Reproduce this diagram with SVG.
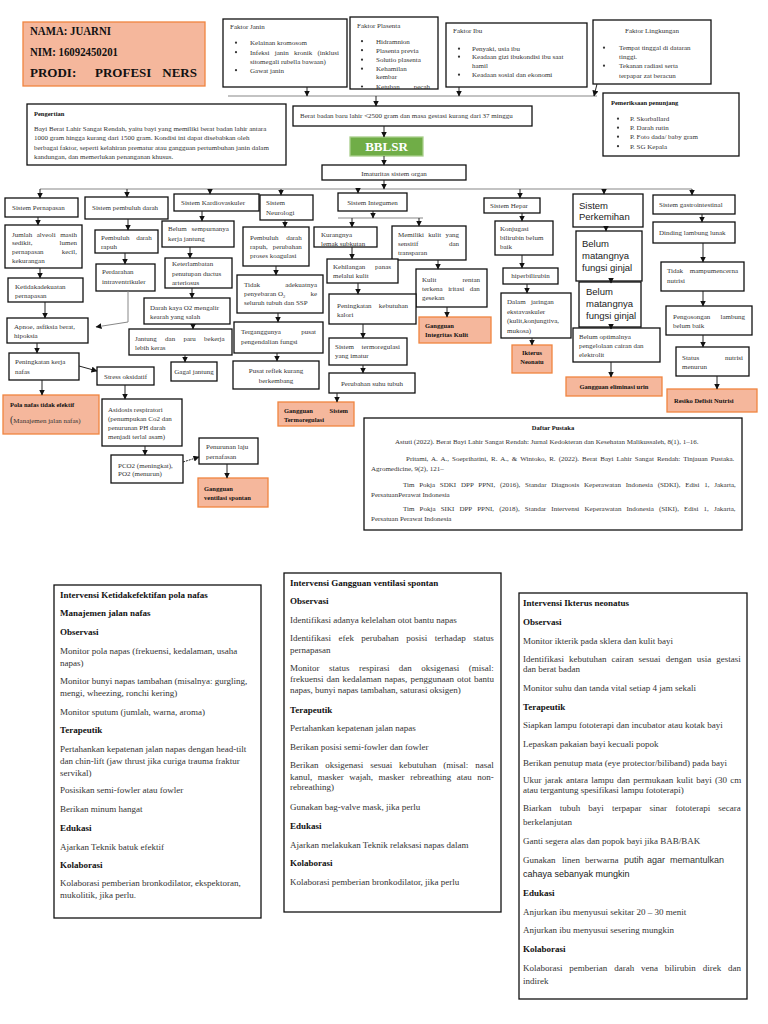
<svg xmlns="http://www.w3.org/2000/svg" width="768" height="1024" viewBox="0 0 768 1024">
<defs>
<marker id="ah" markerWidth="6" markerHeight="6" refX="5.5" refY="3" orient="auto" markerUnits="userSpaceOnUse"><path d="M0,0 L6,3 L0,6 z" fill="#111"/></marker>
<clipPath id="cpH"><rect x="23" y="22" width="182" height="64"/></clipPath>
<clipPath id="cpP"><rect x="350" y="17" width="88" height="72"/></clipPath>
<clipPath id="cpI"><rect x="512" y="345" width="40" height="28"/></clipPath>
</defs>
<style>
.bx{fill:#fff;stroke:#111;stroke-width:1.3}
.ob{fill:#f5b79c;stroke:#f0843f;stroke-width:1.3}
.t{font-family:"Liberation Serif","Times New Roman",serif;font-size:7px;fill:#333}
.tb{font-family:"Liberation Serif","Times New Roman",serif;font-size:7px;font-weight:bold;fill:#111}
.s9{font-size:9px}
.sn{font-family:"Liberation Sans",Arial,sans-serif;font-size:9.5px;fill:#222}
.m{text-anchor:middle}
.e{text-anchor:end}
.dot{fill:#333}
.ln{stroke:#222;stroke-width:1;fill:none;marker-end:url(#ah)}
.bus{stroke:#888;stroke-width:1.2;fill:none}
</style>
<rect width="768" height="1024" fill="#fff"/>

<g id="header">
<rect class="ob" x="23" y="22" width="182" height="64"/>
<g clip-path="url(#cpH)" class="tb" style="font-size:13px">
<text x="30" y="35" textLength="81" lengthAdjust="spacingAndGlyphs">NAMA: JUARNI</text>
<text x="30" y="56" textLength="88" lengthAdjust="spacingAndGlyphs">NIM: 16092450201</text>
<text x="30" y="76.5">PRODI:</text>
<text x="95" y="76.5">PROFESI</text>
<text x="197" y="76.5" class="e">NERS</text>
<text x="30" y="94">UNIMUS</text>
</g>
</g>

<g id="faktor-janin">
<rect class="bx" x="223" y="19" width="124" height="68"/>
<text class="t" x="230" y="28.5">Faktor Janin</text>
<circle class="dot" cx="236" cy="42.7" r="1.1"/><text class="t" x="250" y="45">Kelainan kromosom</text>
<circle class="dot" cx="236" cy="52.2" r="1.1"/><text class="t" x="250" y="54.5" style="word-spacing:3.5px">Infeksi janin kronik (inklusi</text>
<text class="t" x="250" y="63.5">sitomegali rubella bawaan)</text>
<circle class="dot" cx="236" cy="70.2" r="1.1"/><text class="t" x="250" y="72.5">Gawat janin</text>
</g>

<g id="faktor-plasenta">
<rect class="bx" x="350" y="17" width="88" height="72"/>
<g clip-path="url(#cpP)">
<text class="t" x="357" y="27.5">Faktor Plasenta</text>
<circle class="dot" cx="362" cy="41.2" r="1.1"/><text class="t" x="376" y="43.5">Hidramnion</text>
<circle class="dot" cx="362" cy="50.2" r="1.1"/><text class="t" x="376" y="52.5">Plasenta previa</text>
<circle class="dot" cx="362" cy="59.7" r="1.1"/><text class="t" x="376" y="62">Solutio plasenta</text>
<circle class="dot" cx="362" cy="68.7" r="1.1"/><text class="t" x="376" y="71">Kehamilan</text>
<text class="t" x="376" y="79">kembar</text>
<circle class="dot" cx="362" cy="86.5" r="1.1"/><text class="t" x="376" y="89">Ketuban</text><text class="t e" x="430" y="89">pecah</text>
</g>
</g>

<g id="faktor-ibu">
<rect class="bx" x="446" y="23" width="141" height="64"/>
<text class="t" x="453" y="33">Faktor Ibu</text>
<circle class="dot" cx="459" cy="48.7" r="1.1"/><text class="t" x="472" y="51">Penyaki, usia ibu</text>
<circle class="dot" cx="459" cy="56.7" r="1.1"/><text class="t" x="472" y="59">Keadaan gizi ibukondisi ibu saat</text>
<text class="t" x="472" y="67.5">hamil</text>
<circle class="dot" cx="459" cy="74.7" r="1.1"/><text class="t" x="472" y="77">Keadaan sosial dan ekonomi</text>
</g>

<g id="faktor-lingkungan">
<rect class="bx" x="593" y="20" width="118" height="64"/>
<text class="t m" x="652" y="32.5">Faktor Lingkungan</text>
<circle class="dot" cx="604" cy="47.7" r="1.1"/><text class="t" x="619" y="50">Tempat tinggal di dataran</text>
<text class="t" x="619" y="59">tinggi.</text>
<circle class="dot" cx="604" cy="65.7" r="1.1"/><text class="t" x="619" y="68">Tekanan radiasi serta</text>
<text class="t" x="619" y="77.5">terpapar zat beracun</text>
</g>

<g id="pengertian">
<rect class="bx" x="27" y="104" width="259" height="61"/>
<text class="tb" x="34" y="115.5" style="font-size:6.5px">Pengertian</text>
<text class="t" x="34" y="131">Bayi Berat Lahir Sangat Rendah, yaitu bayi yang memiliki berat badan lahir antara</text>
<text class="t" x="34" y="140">1000 gram hingga kurang dari 1500 gram. Kondisi ini dapat disebabkan oleh</text>
<text class="t" x="34" y="149.5">berbagai faktor, seperti kelahiran prematur atau gangguan pertumbuhan janin dalam</text>
<text class="t" x="34" y="158.5">kandungan, dan memerlukan penanganan khusus.</text>
</g>

<g id="berat-badan">
<rect class="bx" x="293" y="106" width="239" height="20"/>
<text class="t" x="300" y="118">Berat badan baru lahir &lt;2500 gram dan masa gestasi kurang dari 37 minggu</text>
</g>

<g id="bblsr">
<rect x="350" y="137" width="73" height="19" fill="#70ad47" stroke="#a9cf8c" stroke-width="1.3"/>
<text class="tb m" x="386.5" y="151" style="font-size:13px;fill:#fff">BBLSR</text>
</g>

<g id="imaturitas">
<rect class="bx" x="322" y="165" width="144" height="15"/>
<text class="t m" x="394" y="175.5">Imaturitas sistem organ</text>
</g>

<g id="pemeriksaan">
<rect class="bx" x="603" y="93" width="136" height="63"/>
<text class="tb" x="611" y="105" style="font-size:6.5px">Pemeriksaan penunjang</text>
<circle class="dot" cx="618" cy="118.7" r="1.1"/><text class="t" x="630" y="121">P. Skorballard</text>
<circle class="dot" cx="618" cy="127.7" r="1.1"/><text class="t" x="630" y="130">P. Darah rutin</text>
<circle class="dot" cx="618" cy="136.7" r="1.1"/><text class="t" x="630" y="139">P. Foto dada/ baby gram</text>
<circle class="dot" cx="618" cy="146.2" r="1.1"/><text class="t" x="630" y="148.5">P. SG Kepala</text>
</g>

<!-- Pernapasan -->
<g id="sis-pernapasan"><rect class="bx" x="5" y="198" width="73" height="19"/><text class="t" x="12" y="209.5">Sistem Pernapasan</text></g>
<g id="alveoli"><rect class="bx" x="5" y="225" width="77" height="43"/>
<text class="t" x="12" y="236.5" style="word-spacing:2.7px">Jumlah alveoli masih</text>
<text class="t" x="12" y="245">sedikit,</text><text class="t e" x="77" y="245">lumen</text>
<text class="t" x="12" y="254">pernapasan</text><text class="t e" x="77" y="254">kecil,</text>
<text class="t" x="12" y="263">kekurangan</text></g>
<g id="ketidakadekuatan"><rect class="bx" x="8" y="278" width="75" height="24"/>
<text class="t" x="15" y="288.5">Ketidakadekuatan</text><text class="t" x="15" y="297.5">pernapasan</text></g>
<g id="apnoe"><rect class="bx" x="7" y="318" width="81" height="25"/>
<text class="t" x="14" y="328.5">Apnoe, asfiksia berat,</text><text class="t" x="14" y="337.5">hipoksia</text></g>
<g id="peningkatan-kerja"><rect class="bx" x="9" y="353" width="70" height="27"/>
<text class="t" x="15" y="364">Peningkatan kerja</text><text class="t" x="15" y="374">nafas</text></g>
<g id="pola-nafas"><rect class="ob" x="3" y="395" width="96" height="39"/>
<text class="tb" x="10" y="406.5" style="font-size:6.5px">Pola nafas tidak efektif</text>
<text class="t" x="10" y="423"><tspan style="font-size:10px">(</tspan>Manajemen jalan nafas)</text></g>

<!-- Pembuluh darah -->
<g id="sis-pembuluh"><rect class="bx" x="85" y="197" width="83" height="22"/><text class="t" x="92" y="210">Sistem pembuluh darah</text></g>
<g id="pembuluh-rapuh"><rect class="bx" x="95" y="230" width="63" height="23"/>
<text class="t" x="101" y="240" style="word-spacing:5px">Pembuluh darah</text><text class="t" x="101" y="249">rapuh</text></g>
<g id="perdarahan"><rect class="bx" x="96" y="264" width="59" height="27"/>
<text class="t" x="102" y="274">Perdarahan</text><text class="t" x="102" y="283.5">intraventrikuler</text></g>
<g id="stress"><rect class="bx" x="97" y="367" width="57" height="18"/><text class="t" x="104" y="378.5">Stress oksidatif</text></g>
<g id="asidosis"><rect class="bx" x="102" y="399" width="80" height="47"/>
<text class="t" x="108" y="412">Asidosis respiratori</text><text class="t" x="108" y="421">(penumpukan Co2 dan</text>
<text class="t" x="108" y="430">penurunan PH darah</text><text class="t" x="108" y="439">menjadi terlal asam)</text></g>
<g id="pco2"><rect class="bx" x="111" y="455" width="72" height="28"/>
<text class="t" x="118" y="467.5">PCO2 (meningkat),</text><text class="t" x="118" y="476">PO2 (menurun)</text></g>
<g id="penurunan-laju"><rect class="bx" x="199" y="438" width="59" height="26"/>
<text class="t" x="206" y="449">Penurunan laju</text><text class="t" x="206" y="458.5">pernafasan</text></g>
<g id="gangguan-ventilasi"><rect class="ob" x="198" y="478" width="70" height="29"/>
<text class="tb" x="204" y="491" style="font-size:6.5px">Gangguan</text><text class="tb" x="204" y="500" style="font-size:6.5px">ventilasi spontan</text></g>

<!-- Kardiovaskuler -->
<g id="sis-kardio"><rect class="bx" x="174" y="194" width="85" height="17"/><text class="t" x="181" y="204.5">Sistem Kardiovaskuler</text></g>
<g id="belum-sempurna"><rect class="bx" x="162" y="221" width="72" height="26"/>
<text class="t" x="168" y="231" style="word-spacing:3.2px">Belum sempurnanya</text><text class="t" x="168" y="241">kerja jantung</text></g>
<g id="keterlambatan"><rect class="bx" x="165" y="258" width="67" height="30"/>
<text class="t" x="172" y="266">Keterlambatan</text><text class="t" x="172" y="275.5">penutupan ductus</text><text class="t" x="172" y="284.5">arteriosus</text></g>
<g id="darah-kaya"><rect class="bx" x="144" y="298" width="86" height="26"/>
<text class="t" x="150" y="310">Darah kaya O2 mengalir</text><text class="t" x="150" y="319">kearah yang salah</text></g>
<g id="jantung-paru"><rect class="bx" x="129" y="329" width="103" height="26"/>
<text class="t" x="135" y="341" style="word-spacing:6.5px">Jantung dan paru bekerja</text><text class="t" x="135" y="350">lebih keras</text></g>
<g id="gagal-jantung"><rect class="bx" x="171" y="362" width="46" height="19"/><text class="t m" x="194" y="373.5">Gagal jantung</text></g>

<!-- Neurologi -->
<g id="sis-neuro"><rect class="bx" x="260" y="195" width="53" height="25"/>
<text class="t" x="266" y="205">Sistem</text><text class="t" x="266" y="214.5">Neurologi</text></g>
<g id="pembuluh-koagulasi"><rect class="bx" x="243" y="227" width="66" height="39"/>
<text class="t" x="250" y="240" style="word-spacing:6px">Pembuluh darah</text>
<text class="t" x="250" y="249" style="word-spacing:3.2px">rapuh, perubahan</text>
<text class="t" x="250" y="258">proses koagulasi</text></g>
<g id="tidak-adekuat"><rect class="bx" x="237" y="275" width="86" height="38"/>
<text class="t" x="244" y="287">Tidak</text><text class="t e" x="317" y="287">adekuatnya</text>
<text class="t" x="244" y="296">penyebaran O<tspan style="font-size:4.5px" dy="1.5">2</tspan></text><text class="t e" x="317" y="296">ke</text>
<text class="t" x="244" y="305">seluruh tubuh dan SSP</text></g>
<g id="terganggunya"><rect class="bx" x="234" y="322" width="89" height="31"/>
<text class="t" x="241" y="334">Terganggunya</text><text class="t e" x="316" y="334">pusat</text>
<text class="t" x="241" y="343.5">pengendalian fungsi</text></g>
<g id="pusat-reflek"><rect class="bx" x="233" y="361" width="86" height="28"/>
<text class="t m" x="276" y="373">Pusat reflek kurang</text><text class="t m" x="276" y="382.5">berkembang</text></g>

<!-- Integumen -->
<g id="sis-integumen"><rect class="bx" x="338" y="193" width="69" height="18"/><text class="t m" x="372.5" y="204.5">Sistem Integumen</text></g>
<g id="kurangnya-lemak"><rect class="bx" x="314" y="227" width="63" height="20"/>
<text class="t" x="321" y="237">Kurangnya</text><text class="t" x="321" y="246">lemak subkutan</text></g>
<g id="memiliki-kulit"><rect class="bx" x="392" y="226" width="74" height="34"/>
<text class="t" x="398" y="237" style="word-spacing:2.5px">Memiliki kulit yang</text>
<text class="t" x="398" y="246">sensitif</text><text class="t e" x="459" y="246">dan</text>
<text class="t" x="398" y="255">transparan</text></g>
<g id="kehilangan-panas"><rect class="bx" x="327" y="259" width="71" height="24"/>
<text class="t" x="333" y="269">Kehilangan</text><text class="t e" x="391" y="269">panas</text>
<text class="t" x="333" y="277.5">melalui kulit</text></g>
<g id="kulit-rentan"><rect class="bx" x="416" y="269" width="71" height="38"/>
<text class="t" x="422" y="282">Kulit</text><text class="t e" x="480" y="282">rentan</text>
<text class="t" x="422" y="290.5" style="word-spacing:3.8px">terkena iritasi dan</text>
<text class="t" x="422" y="299.5">gesekan</text></g>
<g id="gangguan-integritas"><rect class="ob" x="419" y="317" width="72" height="26"/>
<text class="tb" x="425" y="327.5" style="font-size:6.5px">Gangguan</text><text class="tb" x="425" y="337" style="font-size:6.5px">Integritas Kulit</text></g>
<g id="peningkatan-kalori"><rect class="bx" x="329" y="294" width="87" height="30"/>
<text class="t" x="337" y="307.5">Peningkatan</text><text class="t e" x="408" y="307.5">kebutuhan</text>
<text class="t" x="337" y="316.5">kalori</text></g>
<g id="sistem-termo"><rect class="bx" x="329" y="338" width="78" height="27"/>
<text class="t" x="335" y="349">Sistem</text><text class="t e" x="400" y="349">termoregulasi</text>
<text class="t" x="335" y="358">yang imatur</text></g>
<g id="perubahan-suhu"><rect class="bx" x="329" y="373" width="86" height="20"/><text class="t m" x="372" y="385.5">Perubahan suhu tubuh</text></g>
<g id="gangguan-termo"><rect class="ob" x="278" y="402" width="76" height="24"/>
<text class="tb" x="284" y="412.5" style="font-size:6.5px">Gangguan</text><text class="tb e" x="348" y="412.5" style="font-size:6.5px">Sistem</text>
<text class="tb" x="284" y="421.5" style="font-size:6.5px">Termoregulasi</text></g>

<!-- Hepar -->
<g id="sis-hepar"><rect class="bx" x="484" y="198" width="56" height="15"/><text class="t" x="490" y="208">Sistem Hepar</text></g>
<g id="konjugasi"><rect class="bx" x="495" y="221" width="58" height="34"/>
<text class="t" x="500" y="231">Konjugasi</text><text class="t" x="500" y="240">bilirubin belum</text><text class="t" x="500" y="249">baik</text></g>
<g id="hiperbilirubin"><rect class="bx" x="503" y="268" width="55" height="16"/><text class="t m" x="530.5" y="278">hiperbilirubin</text></g>
<g id="dalam-jaringan"><rect class="bx" x="501" y="293" width="70" height="45"/>
<text class="t" x="507" y="304" style="word-spacing:3.5px">Dalam jaringan</text>
<text class="t" x="507" y="313.5">ekstavaskuler</text><text class="t" x="507" y="323">(kulit,konjungtiva,</text><text class="t" x="507" y="332.5">mukosa)</text></g>
<g id="ikterus"><rect class="ob" x="512" y="345" width="40" height="28"/>
<g clip-path="url(#cpI)"><text class="tb m" x="532" y="354.5" style="font-size:6.5px">Ikterus</text><text class="tb m" x="532" y="364" style="font-size:6.5px">Neonatu</text><text class="tb m" x="532" y="375.5" style="font-size:6.5px">s</text></g></g>

<!-- Perkemihan -->
<g id="sis-perkemihan"><rect class="bx" x="573" y="194" width="70" height="33"/>
<text class="sn" x="579" y="209">Sistem</text><text class="sn" x="579" y="220">Perkemihan</text></g>
<g id="belum-matang-1"><rect class="bx" x="576" y="231" width="66" height="50"/>
<text class="sn" x="582" y="247">Belum</text><text class="sn" x="582" y="259">matangnya</text><text class="sn" x="582" y="270.5">fungsi ginjal</text></g>
<g id="belum-matang-2"><rect class="bx" x="579" y="282" width="62" height="45"/>
<text class="sn" x="586" y="295">Belum</text><text class="sn" x="586" y="307">matangnya</text><text class="sn" x="586" y="318.5">fungsi ginjal</text></g>
<g id="belum-optimal"><rect class="bx" x="573" y="328" width="87" height="34"/>
<text class="t" x="579" y="339">Belum optimalnya</text><text class="t" x="579" y="348">pengelolaan cairan dan</text><text class="t" x="579" y="357">elektrolit</text></g>
<g id="gangguan-eliminasi"><rect class="ob" x="566" y="377" width="96" height="19"/><text class="tb m" x="614" y="389" style="font-size:6.5px">Gangguan eliminasi urin</text></g>

<!-- Gastro -->
<g id="sis-gastro"><rect class="bx" x="653" y="195" width="82" height="19"/><text class="t" x="659" y="206.5">Sistem gastrointestinal</text></g>
<g id="dinding-lambung"><rect class="bx" x="653" y="222" width="82" height="21"/><text class="t" x="659" y="235">Dinding lambung lunak</text></g>
<g id="tidak-mampu"><rect class="bx" x="661" y="262" width="83" height="29"/>
<text class="t" x="667" y="273">Tidak</text><text class="t e" x="738" y="273">mampumencerna</text><text class="t" x="667" y="282.5">nutrisi</text></g>
<g id="pengosongan"><rect class="bx" x="666" y="306" width="86" height="29"/>
<text class="t" x="673" y="318.5">Pengosongan</text><text class="t e" x="745" y="318.5">lambung</text><text class="t" x="673" y="327.5">belum baik</text></g>
<g id="status-nutrisi"><rect class="bx" x="676" y="347" width="73" height="29"/>
<text class="t" x="682" y="360">Status</text><text class="t e" x="743" y="360">nutrisi</text><text class="t" x="682" y="369">menurun</text></g>
<g id="resiko-defisit"><rect class="ob" x="667" y="389" width="90" height="23"/><text class="tb" x="674" y="402.5" style="font-size:6.5px">Resiko Defisit Nutrisi</text></g>

<!-- Daftar Pustaka -->
<g id="daftar-pustaka"><rect class="bx" x="364" y="418" width="378" height="112"/>
<text class="tb m" x="553" y="430" style="font-size:6.5px">Daftar Pustaka</text>
<text class="t" x="395" y="444">Astuti (2022). Berat Bayi Lahir Sangat Rendah: Jurnal Kedokteran dan Kesehatan Malikussaleh, 8(1), 1–16.</text>
<text class="t" x="406" y="461" style="word-spacing:1.3px">Pritami, A. A., Soeprihatini, R. A., &amp; Wintoko, R. (2022). Berat Bayi Lahir Sangat Rendah: Tinjauan Pustaka.</text>
<text class="t" x="371" y="471">Agromedicine, 9(2), 121–</text>
<text class="t" x="403" y="487" style="word-spacing:3px">Tim Pokja SDKI DPP PPNI, (2016), Standar Diagnosis Keperawatan Indonesia (SDKI), Edisi 1, Jakarta,</text>
<text class="t" x="371" y="497">PersatuanPerawat Indonesia</text>
<text class="t" x="403" y="511" style="word-spacing:3.4px">Tim Pokja SIKI DPP PPNI, (2018), Standar Intervensi Keperawatan Indonesia (SIKI), Edisi 1, Jakarta,</text>
<text class="t" x="371" y="521">Persatuan Perawat Indonesia</text>
</g>

<!-- Intervensi boxes -->
<g id="intervensi-pola-nafas"><rect class="bx" x="54" y="585" width="207" height="333"/>
<text class="tb s9" x="60" y="598">Intervensi Ketidakefektifan pola nafas</text>
<text class="tb s9" x="60" y="616">Manajemen jalan nafas</text>
<text class="tb s9" x="60" y="635">Observasi</text>
<text class="t s9" x="60" y="654">Monitor pola napas (frekuensi, kedalaman, usaha</text>
<text class="t s9" x="60" y="666">napas)</text>
<text class="t s9" x="60" y="684">Monitor bunyi napas tambahan (misalnya: gurgling,</text>
<text class="t s9" x="60" y="696">mengi, wheezing, ronchi kering)</text>
<text class="t s9" x="60" y="715">Monitor sputum (jumlah, warna, aroma)</text>
<text class="tb s9" x="60" y="733">Terapeutik</text>
<text class="t s9" x="60" y="752">Pertahankan kepatenan jalan napas dengan head-tilt</text>
<text class="t s9" x="60" y="764">dan chin-lift (jaw thrust jika curiga trauma fraktur</text>
<text class="t s9" x="60" y="776">servikal)</text>
<text class="t s9" x="60" y="793">Posisikan semi-fowler atau fowler</text>
<text class="t s9" x="60" y="812">Berikan minum hangat</text>
<text class="tb s9" x="60" y="831">Edukasi</text>
<text class="t s9" x="60" y="850">Ajarkan Teknik batuk efektif</text>
<text class="tb s9" x="60" y="868">Kolaborasi</text>
<text class="t s9" x="60" y="886">Kolaborasi pemberian bronkodilator, ekspektoran,</text>
<text class="t s9" x="60" y="898">mukolitik, jika perlu.</text>
</g>

<g id="intervensi-ventilasi"><rect class="bx" x="284" y="573" width="217" height="339"/>
<text class="tb s9" x="290" y="586">Intervensi Gangguan ventilasi spontan</text>
<text class="tb s9" x="290" y="604">Observasi</text>
<text class="t s9" x="290" y="623">Identifikasi adanya kelelahan otot bantu napas</text>
<text class="t s9" x="290" y="641" style="word-spacing:5.2px">Identifikasi efek perubahan posisi terhadap status</text>
<text class="t s9" x="290" y="653">pernapasan</text>
<text class="t s9" x="290" y="671" style="word-spacing:7.2px">Monitor status respirasi dan oksigenasi (misal:</text>
<text class="t s9" x="290" y="682" style="word-spacing:0.8px">frekuensi dan kedalaman napas, penggunaan otot bantu</text>
<text class="t s9" x="290" y="693">napas, bunyi napas tambahan, saturasi oksigen)</text>
<text class="tb s9" x="290" y="713">Terapeutik</text>
<text class="t s9" x="290" y="731">Pertahankan kepatenan jalan napas</text>
<text class="t s9" x="290" y="750">Berikan posisi semi-fowler dan fowler</text>
<text class="t s9" x="290" y="768" style="word-spacing:4.6px">Berikan oksigenasi sesuai kebutuhan (misal: nasal</text>
<text class="t s9" x="290" y="780" style="word-spacing:3.3px">kanul, masker wajah, masker rebreathing atau non-</text>
<text class="t s9" x="290" y="790">rebreathing)</text>
<text class="t s9" x="290" y="810">Gunakan bag-valve mask, jika perlu</text>
<text class="tb s9" x="290" y="829">Edukasi</text>
<text class="t s9" x="290" y="848">Ajarkan melakukan Teknik relaksasi napas dalam</text>
<text class="tb s9" x="290" y="866">Kolaborasi</text>
<text class="t s9" x="290" y="885">Kolaborasi pemberian bronkodilator, jika perlu</text>
</g>

<g id="intervensi-ikterus"><rect class="bx" x="519" y="593" width="228" height="406"/>
<text class="tb s9" x="523" y="606">Intervensi Ikterus neonatus</text>
<text class="tb s9" x="523" y="625">Observasi</text>
<text class="t s9" x="523" y="644">Monitor ikterik pada sklera dan kulit bayi</text>
<text class="t s9" x="523" y="662" style="word-spacing:2.8px">Identifikasi kebutuhan cairan sesuai dengan usia gestasi</text>
<text class="t s9" x="523" y="672">dan berat badan</text>
<text class="t s9" x="523" y="691">Monitor suhu dan tanda vital setiap 4 jam sekali</text>
<text class="tb s9" x="523" y="710">Terapeutik</text>
<text class="t s9" x="523" y="728">Siapkan lampu fototerapi dan incubator atau kotak bayi</text>
<text class="t s9" x="523" y="747">Lepaskan pakaian bayi kecuali popok</text>
<text class="t s9" x="523" y="766">Berikan penutup mata (eye protector/biliband) pada bayi</text>
<text class="t s9" x="523" y="783" style="word-spacing:1px">Ukur jarak antara lampu dan permukaan kulit bayi (30 cm</text>
<text class="t s9" x="523" y="793">atau tergantung spesifikasi lampu fototerapi)</text>
<text class="t s9" x="523" y="811" style="word-spacing:5.9px">Biarkan tubuh bayi terpapar sinar fototerapi secara</text>
<text class="t s9" x="523" y="825">berkelanjutan</text>
<text class="t s9" x="523" y="844">Ganti segera alas dan popok bayi jika BAB/BAK</text>
<text class="t s9" x="523" y="863"><tspan x="523">Gunakan</tspan><tspan x="562">linen</tspan><tspan x="585">berwarna</tspan><tspan x="624" style="font-family:'Liberation Sans',Arial,sans-serif">putih</tspan><tspan x="647" style="font-family:'Liberation Sans',Arial,sans-serif">agar</tspan><tspan x="670" style="font-family:'Liberation Sans',Arial,sans-serif">memantulkan</tspan></text>
<text class="sn" x="523" y="877" style="font-size:9px">cahaya sebanyak mungkin</text>
<text class="tb s9" x="523" y="896">Edukasi</text>
<text class="t s9" x="523" y="915">Anjurkan ibu menyusui sekitar 20 – 30 menit</text>
<text class="t s9" x="523" y="933">Anjurkan ibu menyusui sesering mungkin</text>
<text class="tb s9" x="523" y="952">Kolaborasi</text>
<text class="t s9" x="523" y="971" style="word-spacing:4.6px">Kolaborasi pemberian darah vena bilirubin direk dan</text>
<text class="t s9" x="523" y="984">indirek</text>
</g>

<g id="connectors">
<path class="bus" d="M228,96 H597"/>
<path class="bus" d="M40,189 H692"/>
<path class="bus" d="M338,218 H423"/>
<path class="ln" d="M307,87 V96"/>
<path class="ln" d="M459,87 V96"/>
<path class="ln" d="M597,84 L594,96"/>
<path class="ln" d="M376,96 V106"/>
<path class="ln" d="M384,126 V137"/>
<path class="ln" d="M384,156 V165"/>
<path class="ln" d="M384,180 V189"/>
<path class="ln" d="M40,189 V198"/>
<path class="ln" d="M127,189 V197"/>
<path class="ln" d="M210,189 V194"/>
<path class="ln" d="M281,189 V195"/>
<path class="ln" d="M358,189 V193"/>
<path class="ln" d="M520,189 V198"/>
<path class="ln" d="M604,189 V194"/>
<path class="ln" d="M692,189 V195"/>
<path class="ln" d="M38,217 V225"/>
<path class="ln" d="M40,268 V278"/>
<path class="ln" d="M45,302 V318"/>
<path class="ln" d="M37,343 V353"/>
<path class="ln" d="M42,380 V395"/>
<path class="ln" d="M79,366 L97,371"/>
<path class="ln" d="M125,385 V399"/>
<path class="ln" d="M128,219 V230"/>
<path class="ln" d="M125,253 V264"/>
<path class="ln" d="M128,291 V322 L96,327" style="stroke:#888"/>
<path class="ln" d="M202,211 V221"/>
<path class="ln" d="M190,247 V258"/>
<path class="ln" d="M192,288 V298"/>
<path class="ln" d="M193,324 V329"/>
<path class="ln" d="M185,355 V362"/>
<path class="ln" d="M145,446 V455"/>
<path class="ln" d="M183,462 L199,457" style="stroke-dasharray:2,1"/>
<path class="ln" d="M227,464 V478"/>
<path class="ln" d="M285,220 V227"/>
<path class="ln" d="M276,266 V275"/>
<path class="ln" d="M278,313 V322"/>
<path class="ln" d="M277,353 V361"/>
<path class="ln" d="M373,211 V218"/>
<path class="ln" d="M352,218 V227"/>
<path class="ln" d="M419,218 V226"/>
<path class="ln" d="M352,247 V259"/>
<path class="ln" d="M438,260 V269"/>
<path class="ln" d="M358,283 V294"/>
<path class="ln" d="M363,324 V338"/>
<path class="ln" d="M363,365 V373"/>
<path class="ln" d="M337,393 V402"/>
<path class="ln" d="M447,307 V317"/>
<path class="ln" d="M522,213 V221"/>
<path class="ln" d="M522,255 V268"/>
<path class="ln" d="M527,284 V293"/>
<path class="ln" d="M532,338 V345"/>
<path class="ln" d="M606,227 V231"/>
<path class="ln" d="M611,278 V283"/>
<path class="ln" d="M611,324 V329"/>
<path class="ln" d="M611,362 V377"/>
<path class="ln" d="M702,214 V222"/>
<path class="ln" d="M703,243 V262"/>
<path class="ln" d="M703,291 V306"/>
<path class="ln" d="M703,335 V347"/>
<path class="ln" d="M717,376 V389"/>
</g>
</svg>
